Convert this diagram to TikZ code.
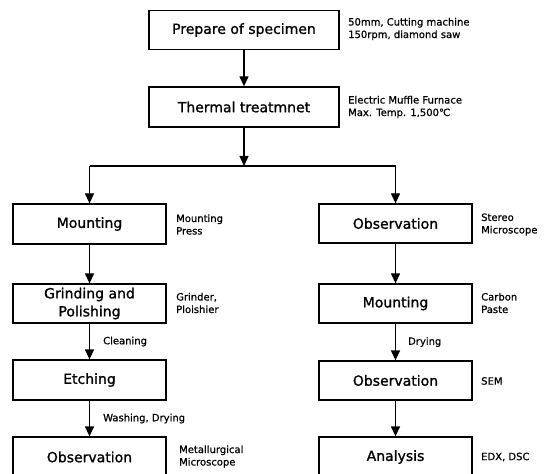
\documentclass[tikz,border=0pt]{standalone}
\usepackage{fontspec}
\setmainfont{DejaVu Sans}
\newfontfamily\boxfont[FakeBold=1.2]{DejaVu Sans}
\newfontfamily\notefont[FakeBold=0.8]{DejaVu Sans}
\usetikzlibrary{arrows.meta}
\tikzset{
  box/.style={draw, line width=1.3bp, inner sep=0pt, align=center,
    font=\boxfont\fontsize{14bp}{18bp}\selectfont},
  wbox/.style={box, minimum width=190bp, minimum height=39bp},
  cbox/.style={box, minimum width=153bp, minimum height=39bp},
  note/.style={anchor=west, align=left, inner sep=0pt,
    font=\notefont\fontsize{10bp}{12.5bp}\selectfont},
  flow/.style={line width=1.3bp, -{Triangle[width=9bp,length=10bp]}},
  link/.style={line width=1.3bp}
}
\begin{document}
\begin{tikzpicture}[x=1bp, y=-1bp]
\useasboundingbox (0,0) rectangle (545,474);
\clip (0,0) rectangle (545,474);
% main boxes
\node[wbox] (prep) at (244,30) {Prepare of specimen};
\node[wbox, minimum height=40bp] (therm) at (244,107) {Thermal treatmnet};
% left column
\node[cbox, minimum height=40bp] (l1) at (89.5,224) {Mounting};
\node[cbox] (l2) at (89.5,303.5) {Grinding and\\Polishing};
\node[cbox, minimum height=40bp] (l3) at (89.5,380) {Etching};
\node[cbox, minimum height=40bp] (l4) at (89.5,457) {Observation};
% right column
\node[cbox] (r1) at (395.5,223.5) {Observation};
\node[cbox] (r2) at (395.5,303.5) {Mounting};
\node[cbox] (r3) at (395.5,380.5) {Observation};
\node[cbox, minimum height=40bp] (r4) at (395.5,457) {Analysis};
% notes
\node[note] (n1) at (348,29) {50mm, Cutting machine\\150rpm, diamond saw};
\node[note] (n2) at (348,107) {Electric Muffle Furnace\\Max. Temp. 1,500℃};
\node[note] (n3) at (176,224.5) {Mounting\\Press};
\node[note] (n4) at (176,303) {Grinder,\\Ploishier};
\node[note] (n5) at (179,456.5) {Metallurgical\\Microscope};
\node[note] (n6) at (481,224.5) {Stereo\\Microscope};
\node[note] (n7) at (481,303) {Carbon\\Paste};
\node[note] (n8) at (481,381) {SEM};
\node[note] (n9) at (481,457) {EDX, DSC};
% connectors
\draw[flow] (prep) -- (therm);
\coordinate (j) at (244,166);
\coordinate (jl) at (l1.north |- j);
\coordinate (jr) at (r1.north |- j);
\draw[flow] (therm) -- (j);
\draw[link] (jl) -- (jr);
\draw[flow] (jl) -- (l1);
\draw[flow] (jr) -- (r1);
\draw[flow] (l1) -- (l2);
\draw[flow] (l2) -- node[note, pos=0.5, xshift=13bp] (c1) {Cleaning} (l3);
\draw[flow] (l3) -- node[note, pos=0.5, xshift=13bp] (c2) {Washing, Drying} (l4);
\draw[flow] (r1) -- (r2);
\draw[flow] (r2) -- node[note, pos=0.5, xshift=12bp] (c3) {Drying} (r3);
\draw[flow] (r3) -- (r4);
\end{tikzpicture}
\end{document}
